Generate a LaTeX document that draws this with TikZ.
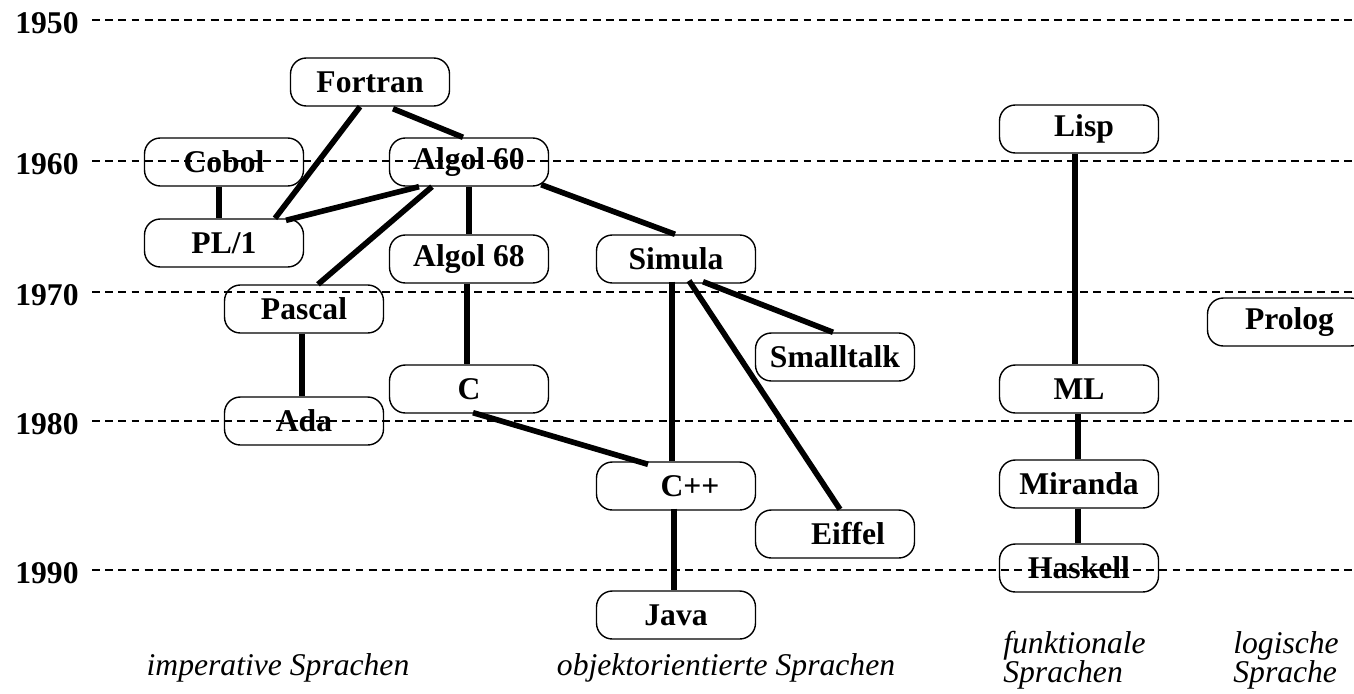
\documentclass[tikz,border=0pt]{standalone}
\usepackage{fontspec}
\setmainfont{Liberation Serif}
\usetikzlibrary{calc}
\begin{document}
\begin{tikzpicture}[x=0.02cm,y=-0.02cm,
  lang/.style={draw, line width=0.8pt, rounded corners=9pt, minimum width=3.18cm,
    minimum height=0.96cm, inner sep=0pt, font=\bfseries\fontsize{18}{20}\selectfont},
  link/.style={line width=3.2pt},
  grid/.style={dash pattern=on 4.5pt off 3pt, line width=0.6pt},
  year/.style={font=\bfseries\fontsize{18}{20}\selectfont, inner sep=0pt},
  cat/.style={font=\itshape\fontsize{18}{20}\selectfont, inner sep=0pt}]
\useasboundingbox (0,0) rectangle (1354,693);
\clip (0,0) rectangle (1354,693);

% year grid
\foreach \yr/\yy in {1950/20,1960/161,1970/292,1980/421,1990/570}{
  \node[year] (y\yr) at (47,\yy+3) {\yr};
  \coordinate (gs\yr) at (92,\yy);
  \coordinate (ge\yr) at (1354,\yy);
  \draw[grid] (gs\yr) -- (ge\yr);
}

% languages
\node[lang] (fortran)  at (370,82)  {Fortran};
\node[lang] (cobol)    at (224,162) {Cobol};
\node[lang] (algol60)  at (469,162) {Algol 60};
\node[lang] (pl1)      at (224,243) {PL/1};
\node[lang] (algol68)  at (469,259) {Algol 68};
\node[lang] (simula)   at (676,259) {Simula};
\node[lang] (pascal)   at (304,309) {Pascal};
\node[lang] (smalltalk) at (835,357) {Smalltalk};
\node[lang] (c)        at (469,389) {C};
\node[lang] (ada)      at (304,421) {Ada};
\node[lang] (cpp)      at (676,486) {\hspace*{0.56cm}C++};
\node[lang] (eiffel)   at (835,534) {\hspace*{0.52cm}Eiffel};
\node[lang] (java)     at (676,615) {Java};
\node[lang] (lisp)     at (1079,129) {\hspace*{0.2cm}Lisp};
\node[lang] (ml)       at (1079,389) {ML};
\node[lang] (miranda)  at (1079,484) {Miranda};
\node[lang] (haskell)  at (1079,568) {Haskell};
\node[lang] (prolog)   at (1287,322) {\hspace*{0.1cm}Prolog};

% connections
\draw[link] ($(fortran.south)+(-10,0)$) -- ($(pl1.north)+(51,0)$);
\draw[link] ($(fortran.south)+(23,2)$) -- ($(algol60.north)+(-6,0)$);
\draw[link] ($(cobol.south)+(-5,0)$) -- ($(pl1.north)+(-5,0)$);
\draw[link] ($(pl1.north)+(62,2)$) -- ($(algol60.south)+(-50,0)$);
\draw[link] ($(algol60.south)+(-37,0)$) -- ($(pascal.north)+(14,0)$);
\draw[link] (algol60.south) -- (algol68.north);
\draw[link] ($(algol60.south east)+(-8,-2)$) -- ($(simula.north)+(-1,0)$);
\draw[link] ($(algol68.south)+(-2,0)$) -- ($(c.north)+(-2,0)$);
\draw[link] ($(pascal.south)+(-2,0)$) -- ($(ada.north)+(-2,0)$);
\draw[link] ($(simula.south)+(-4,-2)$) -- ($(cpp.north)+(-4,0)$);
\draw[link] ($(simula.south)+(27,-2)$) -- ($(smalltalk.north)+(-2,0)$);
\draw[link] ($(simula.south)+(13,-3)$) -- ($(eiffel.north)+(5,0)$);
\draw[link] ($(c.south)+(4,-1)$) -- ($(cpp.north)+(-28,3)$);
\draw[link] ($(cpp.south)+(-2,-2)$) -- ($(java.north)+(-2,0)$);
\draw[link] ($(lisp.south)+(-4,0)$) -- ($(ml.north)+(-4,0)$);
\draw[link] ($(ml.south)+(-1,0)$) -- ($(miranda.north)+(-1,0)$);
\draw[link] ($(miranda.south)+(-1,0)$) -- ($(haskell.north)+(-1,0)$);

% categories
\node[cat, anchor=base] (imp) at (278,675) {imperative Sprachen};
\node[cat, anchor=base] (oo)  at (726,675) {objektorientierte Sprachen};
\node[cat, anchor=base west] (fun1) at (1003,653) {funktionale};
\node[cat, anchor=base west] (fun2) at (1003,682) {Sprachen};
\node[cat, anchor=base west] (log1) at (1233,653) {logische};
\node[cat, anchor=base west] (log2) at (1233,682) {Sprache};
\end{tikzpicture}
\end{document}
